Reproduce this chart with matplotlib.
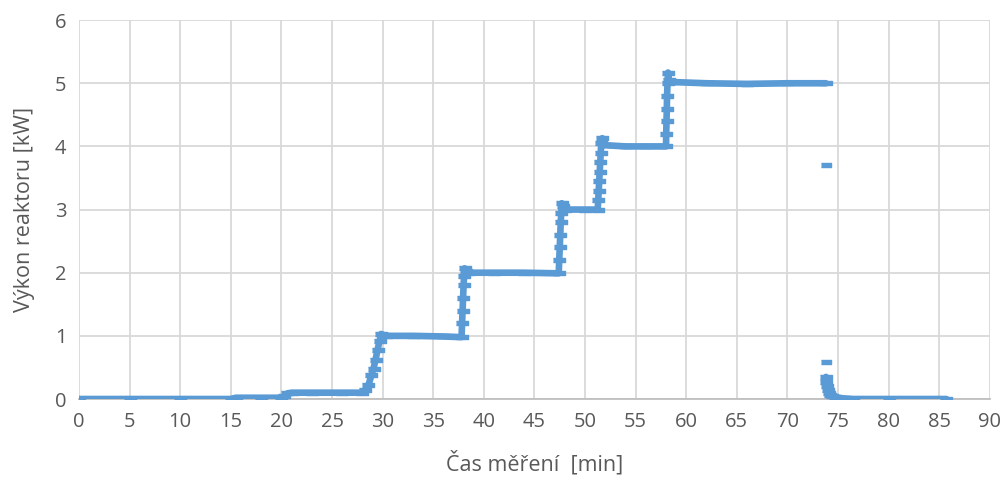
import numpy as np
import matplotlib.pyplot as plt

time_min = [0, 5, 10, 15, 15.5, 18, 20, 20.3, 20.6, 21, 23, 26, 28.0, 28.3, 28.6,
            28.9, 29.1, 29.3, 29.5, 29.7, 29.85, 30.0, 30.3, 33, 36, 37.8,
            37.85, 37.9, 37.95, 38.0, 38.05, 38.1, 38.2, 38.4, 41, 44, 47.4,
            47.45, 47.5, 47.55, 47.6, 47.65, 47.7, 47.8, 48.0, 50, 51.25,
            51.3, 51.35, 51.4, 51.45, 51.5, 51.55, 51.6, 51.7, 51.9, 54, 56, 58.0,
            58.02, 58.05, 58.08, 58.1, 58.15, 58.2, 58.3, 58.5, 62, 66, 70, 73.8]
power_kw = [0.0, 0.0, 0.0, 0.0, 0.02, 0.02, 0.02, 0.05, 0.09, 0.1, 0.1, 0.1, 0.1, 0.14, 0.22,
            0.38, 0.48, 0.62, 0.78, 0.92, 1.03, 1.02, 1.0, 1.0, 0.99, 0.98,
            1.2, 1.4, 1.6, 1.8, 1.95, 2.07, 2.03, 2.0, 2.0, 2.0, 1.99,
            2.2, 2.4, 2.6, 2.8, 2.95, 3.1, 3.05, 3.0, 3.0, 3.0,
            3.15, 3.3, 3.45, 3.6, 3.75, 3.9, 4.05, 4.13, 4.02, 4.0, 4.0, 4.0,
            4.2, 4.4, 4.6, 4.8, 5.0, 5.17, 5.05, 5.02, 5.0, 4.99, 5.0, 5.0]

# shutdown tail
tail_time = [73.8, 73.85, 73.9, 74.0, 74.1, 74.2, 74.4, 74.7, 75.0, 75.5, 76.5, 80, 85.7]
tail_power = [0.35, 0.27, 0.2, 0.14, 0.1, 0.07, 0.05, 0.03, 0.02, 0.01, 0.0, 0.0, 0.0]

# single isolated samples during the drop
drop_time = [73.8, 73.8]
drop_power = [3.7, 0.58]

x_ticks = np.arange(0, 91, 5)
y_ticks = np.arange(0, 7, 1)

blue = '#5B9BD5'
grey_text = '#595959'
dash = [(-1, -0.42), (1, -0.42), (1, 0.42), (-1, 0.42)]

fig = plt.figure(figsize=(10.06, 4.79), dpi=100)
ax = fig.add_axes([0.0785, 0.167, 0.9055, 0.791])

ax.plot(time_min, power_kw, color=blue, lw=4.8, marker=dash, ms=8.5, mec=blue, mfc=blue,
        solid_capstyle='round', solid_joinstyle='round', zorder=3)
ax.plot(tail_time, tail_power, color=blue, lw=4.8, marker=dash, ms=8.5, mec=blue, mfc=blue,
        solid_capstyle='round', zorder=3)
ax.plot(drop_time, drop_power, ls='none', marker=dash, ms=7.5, mec=blue, mfc=blue, zorder=3)

ax.set_xlim(0, 90)
ax.set_ylim(0, 6)
ax.set_xticks(x_ticks)
ax.set_yticks(y_ticks)
ax.grid(True, color='#D9D9D9', lw=1.3)
ax.set_axisbelow(True)
for side in ['top', 'right', 'left']:
    ax.spines[side].set_visible(False)
ax.spines['bottom'].set_color('#BFBFBF')
ax.spines['bottom'].set_linewidth(1.3)
ax.tick_params(length=0, labelsize=14.5, colors=grey_text, pad=9)
for lab in ax.get_xticklabels() + ax.get_yticklabels():
    lab.set_fontfamily('Open Sans')

ax.set_xlabel('Čas měření  [min]', fontsize=15.5, color=grey_text, family='Open Sans', labelpad=14)
ax.set_ylabel('Výkon reaktoru [kW]', fontsize=15.5, color=grey_text, family='Open Sans', labelpad=14)

fig.savefig('out.png', dpi=100)
